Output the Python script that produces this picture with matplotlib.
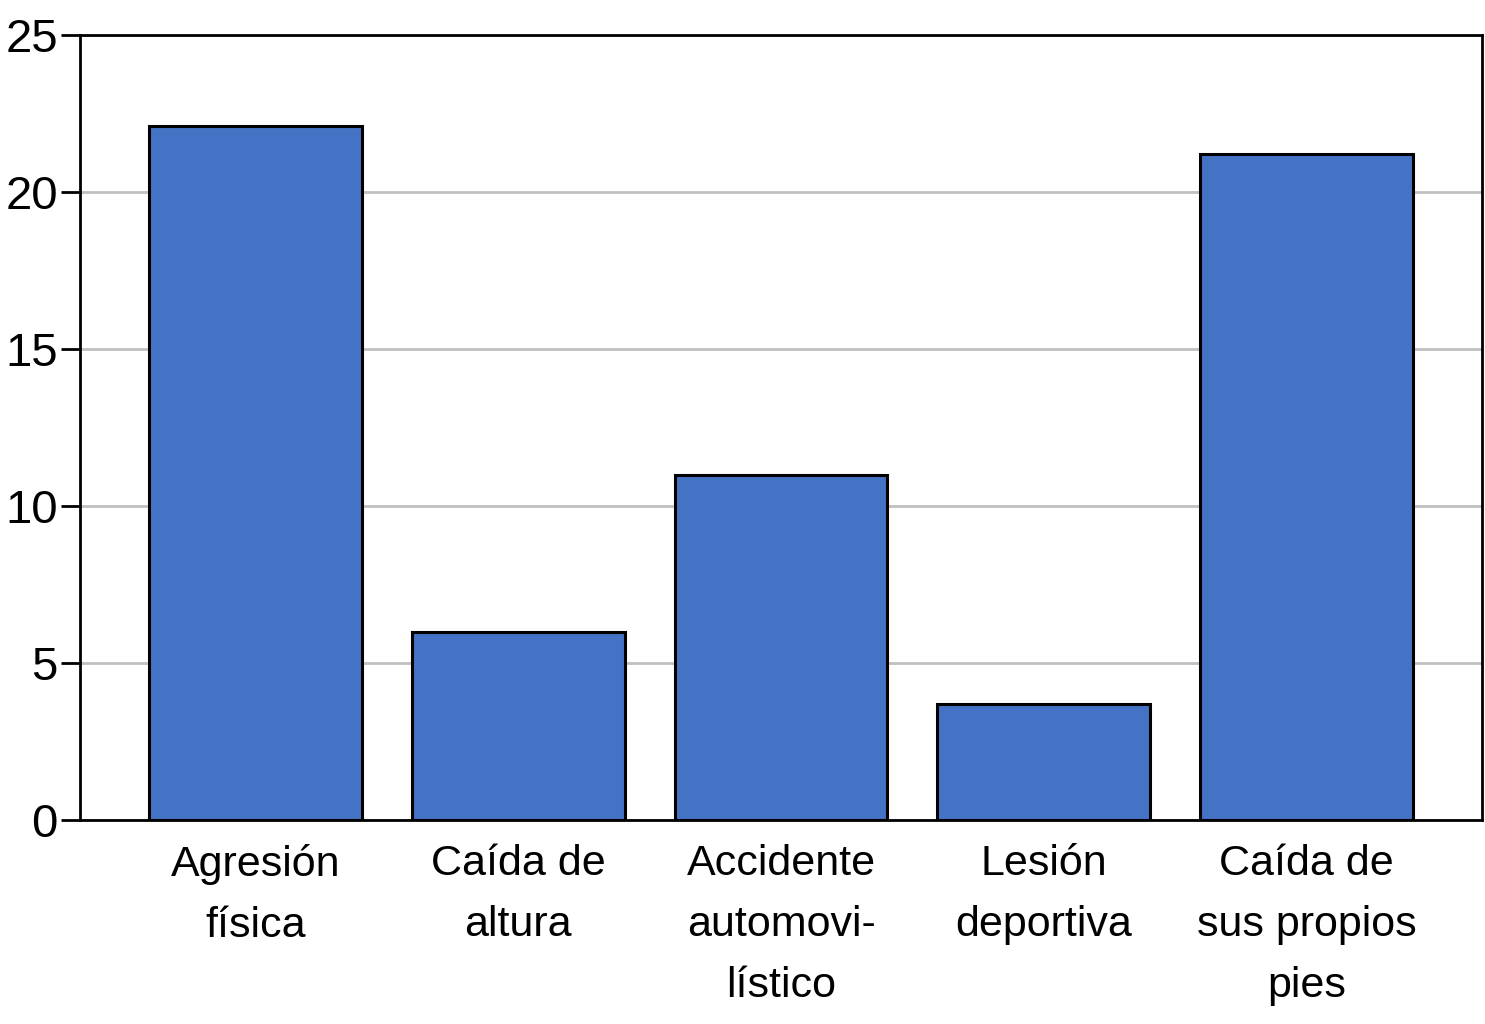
import matplotlib
matplotlib.use('Agg')
import matplotlib.pyplot as plt

# Data
categories = ['Agresión\nfísica', 'Caída de\naltura', 'Accidente\nautomovi-\nlístico',
              'Lesión\ndeportiva', 'Caída de\nsus propios\npies']
values = [22.1, 6.0, 11.0, 3.7, 21.2]
yticks = [0, 5, 10, 15, 20, 25]

plt.rcParams['font.family'] = ['Liberation Sans', 'DejaVu Sans']

fig = plt.figure(figsize=(14.85, 10.24), dpi=100)
ax = fig.add_axes([0.0539, 0.1992, 0.9441, 0.7666])

ax.bar(range(len(values)), values, width=0.81, color='#4472C4',
       edgecolor='black', linewidth=2.2, zorder=3)

ax.set_xlim(-0.667, 4.667)
ax.set_ylim(0, 25)
ax.set_yticks(yticks)
ax.yaxis.grid(True, color='#c0c0c0', linewidth=2, zorder=0)
ax.set_xticks(range(len(categories)))
ax.set_xticklabels(categories, fontsize=31, linespacing=1.68, va='top')
ax.tick_params(axis='x', length=0, pad=17)
ax.tick_params(axis='y', labelsize=34, length=14, width=2, pad=2)
for s in ax.spines.values():
    s.set_linewidth(2)

fig.savefig('out.png', dpi=100)
